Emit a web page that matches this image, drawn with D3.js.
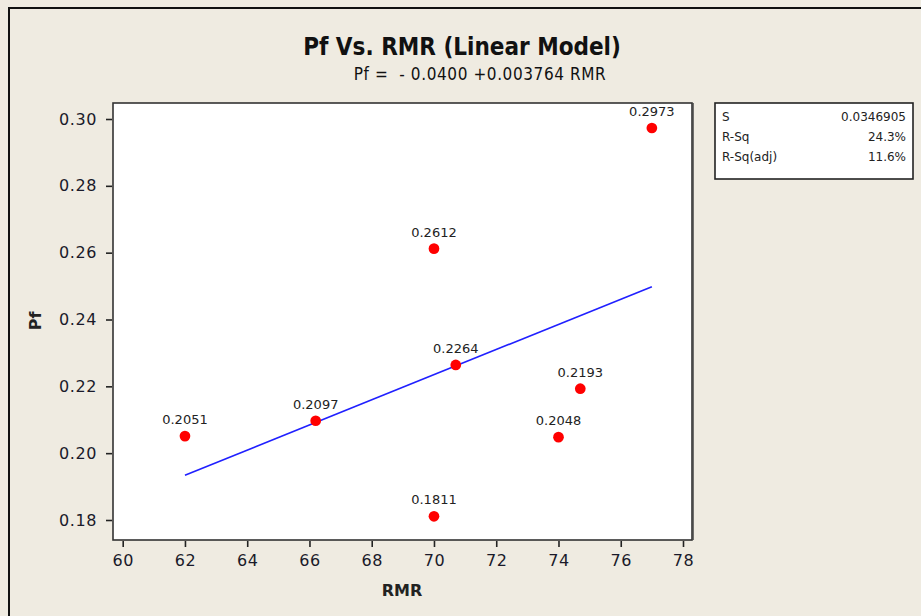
<!DOCTYPE html>
<html>
<head>
<meta charset="utf-8">
<script src="https://cdn.jsdelivr.net/npm/d3@7"></script>
<style>
  html, body { margin: 0; padding: 0; background: #efebe1; }
  svg { display: block; }
</style>
</head>
<body>
<script>
  // data
  let rmr = [62, 66.2, 70, 70, 70.7, 74, 74.7, 77];
  let pf = [0.2051, 0.2097, 0.2612, 0.1811, 0.2264, 0.2048, 0.2193, 0.2973];
  let pointLabels = ["0.2051", "0.2097", "0.2612", "0.1811", "0.2264", "0.2048", "0.2193", "0.2973"];
  let xTicks = [60, 62, 64, 66, 68, 70, 72, 74, 76, 78];
  let yTicks = [0.18, 0.20, 0.22, 0.24, 0.26, 0.28, 0.30];
  let intercept = -0.0400;
  let slope = 0.003764;
  let statNames = ["S", "R-Sq", "R-Sq(adj)"];
  let statValues = ["0.0346905", "24.3%", "11.6%"];

  let svgContainer = d3.select("body")
    .append("svg")
    .attr("width", 921)
    .attr("height", 616);

  // outer frame (right/bottom edges fall off the picture)
  svgContainer.append("rect")
    .attr("x", 9).attr("y", 8)
    .attr("width", 940).attr("height", 640)
    .attr("fill", "#efebe1")
    .attr("stroke", "#111")
    .attr("stroke-width", 2);

  let plot = { left: 113, right: 692, top: 103, bottom: 540 };

  let xScale = d3.scaleLinear()
    .domain([60, 78])
    .range([122.7, 683]);
  let yScale = d3.scaleLinear()
    .domain([0.18, 0.30])
    .range([520, 119]);

  // plot area
  svgContainer.append("rect")
    .attr("x", plot.left).attr("y", plot.top)
    .attr("width", plot.right - plot.left)
    .attr("height", plot.bottom - plot.top)
    .attr("fill", "#fff")
    .attr("stroke", "#333")
    .attr("stroke-width", 1.6);
  // darker right edge like in the picture
  svgContainer.append("line")
    .attr("x1", plot.right + 1).attr("x2", plot.right + 1)
    .attr("y1", plot.top).attr("y2", plot.bottom)
    .attr("stroke", "#444").attr("stroke-width", 1.5);

  // axes
  let xAxis = d3.axisBottom(xScale)
    .tickValues(xTicks)
    .tickSize(6)
    .tickPadding(8)
    .tickFormat(d3.format("d"));
  let gx = svgContainer.append("g")
    .attr("transform", "translate(0," + (plot.bottom + 1) + ")")
    .call(xAxis);

  let yAxis = d3.axisLeft(yScale)
    .tickValues(yTicks)
    .tickSize(6)
    .tickPadding(9)
    .tickFormat(d3.format(".2f"));
  let gy = svgContainer.append("g")
    .attr("transform", "translate(" + (plot.left - 1) + ",0)")
    .call(yAxis);

  [gx, gy].forEach((g) => {
    g.select(".domain").remove();
    g.selectAll(".tick line").attr("stroke", "#222").attr("stroke-width", 1.6);
    g.selectAll(".tick text")
      .attr("fill", "#1a1a2a")
      .style("font-family", "'DejaVu Sans', sans-serif")
      .style("font-size", "16px")
      .style("letter-spacing", "0.6px");
  });

  // axis titles
  svgContainer.append("text")
    .attr("x", 402).attr("y", 596)
    .attr("text-anchor", "middle")
    .style("font-family", "'DejaVu Sans', sans-serif")
    .style("font-weight", "bold")
    .style("font-size", "16px")
    .attr("fill", "#222")
    .text("RMR");
  svgContainer.append("text")
    .attr("transform", "translate(41,321) rotate(-90)")
    .attr("text-anchor", "middle")
    .style("font-family", "'DejaVu Sans', sans-serif")
    .style("font-weight", "bold")
    .style("font-size", "16px")
    .attr("fill", "#222")
    .text("Pf");

  // titles
  svgContainer.append("text")
    .attr("x", 462).attr("y", 55)
    .attr("text-anchor", "middle")
    .style("font-family", "'DejaVu Sans Condensed', 'DejaVu Sans', sans-serif")
    .style("font-weight", "bold")
    .style("font-size", "24px")
    .attr("fill", "#111")
    .text("Pf Vs. RMR (Linear Model)");
  svgContainer.append("text")
    .attr("x", 480).attr("y", 80)
    .attr("text-anchor", "middle")
    .style("font-family", "'DejaVu Sans Condensed', 'DejaVu Sans', sans-serif")
    .style("font-size", "17px")
    .style("letter-spacing", "0.6px")
    .style("white-space", "pre")
    .attr("fill", "#111")
    .text("Pf =  - 0.0400 +0.003764 RMR");

  // fitted line
  let xExt = d3.extent(rmr);
  let fit = xExt.map((x) => [x, intercept + slope * x]);
  svgContainer.append("path")
    .datum(fit)
    .attr("fill", "none")
    .attr("stroke", "#2020ff")
    .attr("stroke-width", 1.6)
    .attr("d", d3.line().x((d) => xScale(d[0])).y((d) => yScale(d[1])));

  // points
  let points = rmr.map((x, i) => ({ x: x, y: pf[i], label: pointLabels[i] }));
  svgContainer.selectAll(".dot")
    .data(points)
    .enter()
    .append("path")
    .attr("class", "dot")
    .attr("transform", (d) => "translate(" + xScale(d.x) + "," + yScale(d.y) + ")")
    .attr("d", d3.symbol().type(d3.symbolCircle).size(90))
    .attr("fill", "#ff0000");

  svgContainer.selectAll(".lbl")
    .data(points)
    .enter()
    .append("text")
    .attr("class", "lbl")
    .attr("x", (d) => xScale(d.x))
    .attr("y", (d) => yScale(d.y) - 12)
    .attr("text-anchor", "middle")
    .style("font-family", "'DejaVu Sans', sans-serif")
    .style("font-size", "13px")
    .attr("fill", "#222")
    .text((d) => d.label);

  // stats box
  let box = { x: 715, y: 103, w: 198, h: 76 };
  svgContainer.append("rect")
    .attr("x", box.x).attr("y", box.y)
    .attr("width", box.w).attr("height", box.h)
    .attr("fill", "#fff")
    .attr("stroke", "#222")
    .attr("stroke-width", 1.6);
  let rowY = [121, 141, 161];
  statNames.forEach((name, i) => {
    svgContainer.append("text")
      .attr("x", box.x + 7).attr("y", rowY[i])
      .style("font-family", "'DejaVu Sans', sans-serif")
      .style("font-size", "12px")
      .attr("fill", "#222")
      .text(name);
    svgContainer.append("text")
      .attr("x", box.x + box.w - 7).attr("y", rowY[i])
      .attr("text-anchor", "end")
      .style("font-family", "'DejaVu Sans', sans-serif")
      .style("font-size", "12px")
      .attr("fill", "#222")
      .text(statValues[i]);
  });
</script>
</body>
</html>
